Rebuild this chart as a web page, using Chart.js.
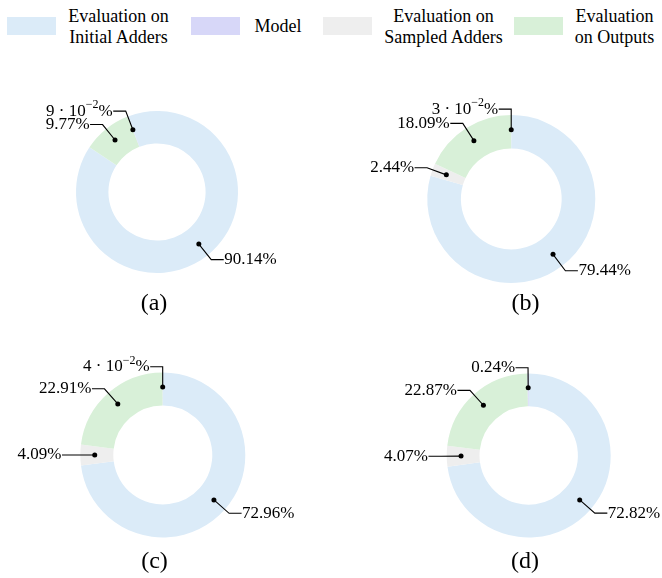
<!DOCTYPE html>
<html>
<head>
<meta charset="utf-8">
<script src="https://cdn.jsdelivr.net/npm/chart.js@4.4.1/dist/chart.umd.min.js"></script>
<style>
  html, body { margin: 0; padding: 0; background: #fff; }
  body {
    width: 662px; height: 578px; position: relative; overflow: hidden;
    font-family: 'Liberation Serif', 'Times New Roman', serif;
  }
  .patch { position: absolute; top: 17px; width: 49px; height: 18px; }
  .txt {
    position: absolute; top: 6px; height: 41.2px; width: 160px;
    display: flex; align-items: center; justify-content: center;
    font-family: 'Liberation Serif', serif; font-size: 18px; line-height: 20.6px;
    text-align: center; white-space: pre; color: #000;
  }
  canvas { position: absolute; }
</style>
</head>
<body>
<div id="legend"></div>
<canvas id="chart-a"></canvas>
<canvas id="chart-b"></canvas>
<canvas id="chart-c"></canvas>
<canvas id="chart-d"></canvas>

<script>
// data, in percent, one entry per panel (a)..(d)
const categories = [
  "Evaluation on\nInitial Adders",
  "Model",
  "Evaluation on\nSampled Adders",
  "Evaluation\non Outputs",
];
const panels = ["(a)", "(b)", "(c)", "(d)"];
const initialAdders = [90.14, 79.44, 72.96, 72.82];
const model = [0.09, 0.03, 0.04, 0.24];
const sampledAdders = [0, 2.44, 4.09, 4.07];
const outputs = [9.77, 18.09, 22.91, 22.87];

// colours follow the legend order above
const colors = ["#dbebf8", "#d7d7f8", "#eeeeee", "#d8f0d8"];

// legend placement: patch left edge and text centre
const legendPos = [
  { patch: 7, text: 118.5 },
  { patch: 191, text: 278 },
  { patch: 323, text: 443.5 },
  { patch: 513.5, text: 614.5 },
];

// where each doughnut sits on the page
const layout = [
  { left: 0,   top: 60,  w: 331, h: 265, cx: 157,   cy: 192,   r: 81,   rot: -21, capX: 154,   capY: 310 },
  { left: 331, top: 60,  w: 331, h: 265, cx: 511.3, cy: 199,   r: 84,   rot: 0,   capX: 525.5, capY: 310 },
  { left: 0,   top: 323, w: 331, h: 255, cx: 162.8, cy: 455,   r: 82.5, rot: 0,   capX: 154.5, capY: 568 },
  { left: 331, top: 323, w: 331, h: 255, cx: 528.7, cy: 455.5, r: 82,   rot: 0,   capX: 525,   capY: 568 },
];

const FONT = "'Liberation Serif', serif";

// legend (shared)
const legendEl = document.getElementById("legend");
categories.forEach((name, i) => {
  const patch = document.createElement("div");
  patch.className = "patch";
  patch.style.background = colors[i];
  patch.style.left = legendPos[i].patch + "px";
  const txt = document.createElement("div");
  txt.className = "txt";
  txt.textContent = name;
  txt.style.left = legendPos[i].text - 80 + "px";
  legendEl.appendChild(patch);
  legendEl.appendChild(txt);
});

function pctPieces(v) {
  if (v < 0.1) {
    const m = Math.round(v * 100);
    return [
      { t: m + " \u00b7 10", size: 17, dy: 0 },
      { t: "\u22122", size: 12, dy: -6 },
      { t: "%", size: 17, dy: 0 },
    ];
  }
  return [{ t: v.toFixed(2) + "%", size: 17, dy: 0 }];
}

function drawPct(ctx, v, x, y, side) {
  const pieces = pctPieces(v);
  let total = 0;
  pieces.forEach((p) => {
    ctx.font = p.size + "px " + FONT;
    p.w = ctx.measureText(p.t).width;
    total += p.w;
  });
  let px = side > 0 ? x : x - total;
  ctx.textAlign = "left";
  ctx.textBaseline = "middle";
  pieces.forEach((p) => {
    ctx.font = p.size + "px " + FONT;
    ctx.fillText(p.t, px, y + p.dy);
    px += p.w;
  });
}

const calloutPlugin = {
  id: "callouts",
  afterDatasetsDraw(chart, args, opts) {
    const ctx = chart.ctx;
    const meta = chart.getDatasetMeta(0);
    const values = chart.data.datasets[0].data;
    ctx.save();
    ctx.strokeStyle = "#000";
    ctx.fillStyle = "#000";
    ctx.lineWidth = 1.1;
    meta.data.forEach((arc, i) => {
      const v = values[i];
      if (!v) return;
      const p = arc.getProps(["x", "y", "startAngle", "endAngle", "outerRadius"], true);
      const mid = (p.startAngle + p.endAngle) / 2;
      const c = Math.cos(mid);
      const s = Math.sin(mid);
      const dotX = p.x + c * p.outerRadius * 0.825;
      const dotY = p.y + s * p.outerRadius * 0.825;
      const elX = dotX + c * p.outerRadius * 0.245;
      const elY = dotY + s * p.outerRadius * 0.245;
      const side = c >= 0 ? 1 : -1;
      const endX = elX + side * 12.5;
      ctx.beginPath();
      ctx.moveTo(dotX, dotY);
      ctx.lineTo(elX, elY);
      ctx.lineTo(endX, elY);
      ctx.stroke();
      ctx.beginPath();
      ctx.arc(dotX, dotY, 2.5, 0, Math.PI * 2);
      ctx.fill();
      drawPct(ctx, v, endX + side * 0.5, elY, side);
    });
    ctx.font = "24px " + FONT;
    ctx.textAlign = "center";
    ctx.textBaseline = "alphabetic";
    ctx.fillText(opts.caption, opts.capX, opts.capY);
    ctx.restore();
  },
};

const canvasIds = ["chart-a", "chart-b", "chart-c", "chart-d"];

panels.forEach((caption, i) => {
  const L = layout[i];
  const cv = document.getElementById(canvasIds[i]);
  cv.width = L.w;
  cv.height = L.h;
  cv.style.left = L.left + "px";
  cv.style.top = L.top + "px";
  cv.style.width = L.w + "px";
  cv.style.height = L.h + "px";

  // drawing order, clockwise from the start angle
  const order = [0, 2, 3, 1];
  const series = [initialAdders[i], model[i], sampledAdders[i], outputs[i]];

  new Chart(cv.getContext("2d"), {
    type: "doughnut",
    data: {
      labels: order.map((k) => categories[k].replace("\n", " ")),
      datasets: [
        {
          data: order.map((k) => series[k]),
          backgroundColor: order.map((k) => colors[k]),
          borderWidth: 0,
          hoverBorderWidth: 0,
          hoverOffset: 0,
          offset: 0,
        },
      ],
    },
    options: {
      responsive: false,
      animation: false,
      events: [],
      cutout: "60%",
      rotation: L.rot,
      layout: {
        padding: {
          left: L.cx - L.r - L.left,
          right: L.left + L.w - (L.cx + L.r),
          top: L.cy - L.r - L.top,
          bottom: L.top + L.h - (L.cy + L.r),
        },
      },
      plugins: {
        legend: { display: false },
        tooltip: { enabled: false },
        callouts: { caption: caption, capX: L.capX - L.left, capY: L.capY - L.top },
      },
    },
    plugins: [calloutPlugin],
  });
});
</script>
</body>
</html>
